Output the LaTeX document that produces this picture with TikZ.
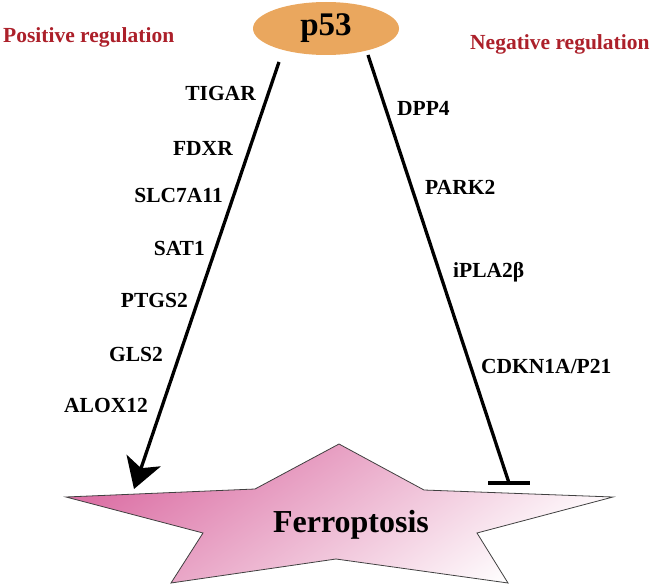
\documentclass[tikz,border=0pt]{standalone}
\usepackage{fontspec}
\setmainfont{Liberation Serif}
\usepackage{tikz}
\usetikzlibrary{arrows.meta,shapes.geometric}
\tikzset {>={Stealth[length=30pt,width=36pt,inset=8pt]}}
\definecolor{regred}{RGB}{172,32,42}
\definecolor{porange}{RGB}{234,167,94}
\definecolor{starpink}{RGB}{220,114,166}
\tikzset{gene/.style={font=\fontsize{21.5}{24}\selectfont\bfseries,inner sep=0pt},
  regtext/.style={gene,text=regred},
  reg/.style={line width=3.3pt}}

\begin{document}
\begin{tikzpicture}[x=1pt,y=-1pt]
\useasboundingbox (0,0) rectangle (654,586);
% ferroptosis star
\shade[top color=starpink,bottom color=white,shading angle=35,draw=black!75,line width=.8pt]
  (339,444) -- (424,490) -- (613,497) -- (477,533) -- (508,583) -- (336,559)
  -- (171,583) -- (203,533) -- (66,497) -- (255,489) -- cycle;
\node[font=\fontsize{32}{35}\selectfont\bfseries,anchor=base] (ferro) at (351,532) {Ferroptosis};
\node[ellipse,fill=porange,minimum width=146pt,minimum height=53pt,inner sep=0pt,
  font=\fontsize{33}{36}\selectfont\bfseries] (p53) at (326,28.5) {p53};
\node[regtext,anchor=base west] (posreg) at (3,43) {Positive regulation};
\node[regtext,anchor=base west] (negreg) at (470,50) {Negative regulation};
\coordinate (posTop) at (279,62);
\coordinate (posTip) at (134,489);
\coordinate (negTop) at (368,55);
\coordinate (negEnd) at (509,483);
\draw[reg,->] (posTop) -- (posTip);
\draw[reg] (negTop) -- (negEnd);
\draw[reg] ([xshift=-21pt]negEnd) -- ([xshift=21pt]negEnd);
% positive side
\node[gene,anchor=base east] (tigar) at (256,100) {TIGAR};
\node[gene,anchor=base east] (fdxr) at (233,155) {FDXR};
\node[gene,anchor=base east] (slc) at (223,202) {SLC7A11};
\node[gene,anchor=base east] (sat1) at (205,255) {SAT1};
\node[gene,anchor=base east] (ptgs2) at (188,307) {PTGS2};
\node[gene,anchor=base east] (gls2) at (163,361) {GLS2};
\node[gene,anchor=base east] (alox) at (148,412) {ALOX12};
% negative side
\node[gene,anchor=base west] (dpp4) at (397,115) {DPP4};
\node[gene,anchor=base west] (park2) at (425,194) {PARK2};
\node[gene,anchor=base west] (ipla) at (453,277) {iPLA2β};
\node[gene,anchor=base west] (cdkn) at (481,373) {CDKN1A/P21};
\end{tikzpicture}
\end{document}
